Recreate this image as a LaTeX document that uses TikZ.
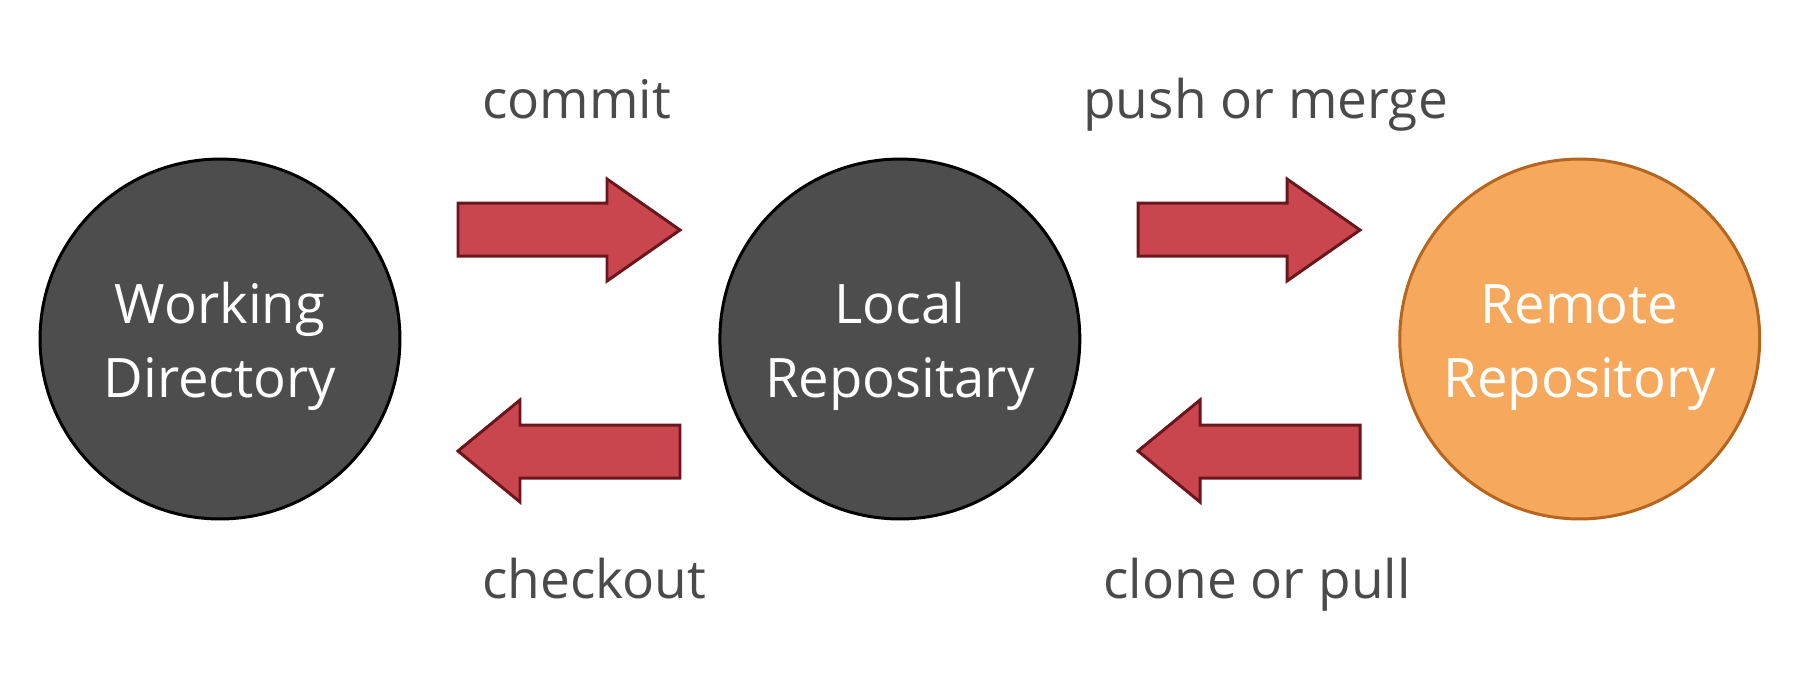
\documentclass[tikz,border=0pt]{standalone}
\usepackage{fontspec}
\setmainfont{Open Sans}
\usepackage{tikz}
\usetikzlibrary{positioning}

\definecolor{repogray}{HTML}{4D4D4D}
\definecolor{remotefill}{HTML}{F6A85C}
\definecolor{remoteline}{HTML}{B5651D}
\definecolor{arrowfill}{HTML}{CA464F}
\definecolor{arrowline}{HTML}{6B161C}
\definecolor{labelgray}{HTML}{4A4A4A}

\begin{document}
\begin{tikzpicture}[x=0.02cm,y=-0.02cm,
    repo/.style={circle,draw=black,fill=repogray,line width=1.7pt,minimum size=7.2cm,
      inner sep=0pt,outer sep=0pt,align=center,text=white,font=\fontsize{31}{42}\selectfont},
    blockarrow/.style={draw=arrowline,fill=arrowfill,line width=1.7pt,line join=miter},
    lbl/.style={anchor=base west,inner sep=0pt,text=labelgray,font=\fontsize{30.3}{42}\selectfont}]
  \useasboundingbox (0,0) rectangle (1800,681);

  \node[repo] (wd) at (220,339) {\rule{0pt}{31.5pt}Working\\Directory};
  \node[repo,right=6.4cm of wd] (lr) {\rule{0pt}{31.5pt}Local\\Repositary};
  \node[repo,right=6.4cm of lr,fill=remotefill,draw=remoteline] (rr) {\rule{0pt}{31.5pt}Remote\\Repository};

  %wd>lr
  \draw[blockarrow] (458,203) -- (607,203) -- (607,179) -- (680,230) -- (607,281) -- (607,256) -- (458,256) -- cycle;
  \node[lbl] (commit) at (482,118) {commit};
  %lr>wd
  \draw[blockarrow] (680,425) -- (520,425) -- (520,400) -- (458,451) -- (520,502) -- (520,478) -- (680,478) -- cycle;
  \node[lbl] (checkout) at (482,598) {checkout};

  %lr>rr
  \draw[blockarrow] (1138,203) -- (1287,203) -- (1287,179) -- (1360,230) -- (1287,281) -- (1287,256) -- (1138,256) -- cycle;
  \node[lbl] (push) at (1083,118) {push or merge};
  %rr>lr
  \draw[blockarrow] (1360,425) -- (1200,425) -- (1200,400) -- (1138,451) -- (1200,502) -- (1200,478) -- (1360,478) -- cycle;
  \node[lbl] (pull) at (1103,598) {clone or pull};
\end{tikzpicture}
\end{document}
